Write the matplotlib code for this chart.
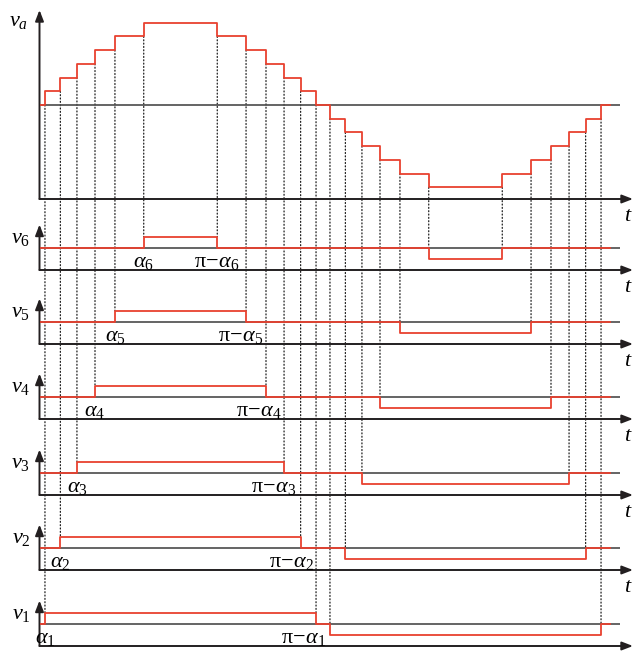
import numpy as np
import matplotlib.pyplot as plt
from matplotlib.patches import ConnectionPatch

plt.rcParams['mathtext.fontset'] = 'custom'
plt.rcParams['mathtext.rm'] = 'Liberation Serif'
plt.rcParams['mathtext.it'] = 'Liberation Serif:italic'

# switching angles (deg) of the six cells
alpha = [4.4, 14.1, 24.6, 36.0, 48.6, 66.8]
cells = [6, 5, 4, 3, 2, 1]          # sub panels, top to bottom
t_end = 361.0                       # red trace stops here
zero_end = 367.5                    # grey zero line stops here

RED = '#e8412f'
AX = '#231f20'
GREY = '#4a4a4a'

W, H = 640, 651
fig = plt.figure(figsize=(W / 100, H / 100), dpi=100)

px_deg = 285 / 180.0
x_left = (39.5 - 38) / px_deg
x_right = (633 - 38) / px_deg


def px_axes(top, bottom, t_label=True):
    ax = fig.add_axes([39.5 / W, 1 - bottom / H, (633 - 39.5) / W, (bottom - top) / H])
    ax.set_xlim(x_left, x_right)
    ax.axis('off')
    ax.set_facecolor('none')
    arrow = dict(arrowstyle='-|>,head_length=0.65,head_width=0.25', color=AX,
                 lw=1.4, shrinkA=0, shrinkB=0, mutation_scale=10)
    ax.annotate('', xy=(1, 0), xytext=(0, 0), xycoords='axes fraction', arrowprops=arrow)
    ax.annotate('', xy=(0, 1), xytext=(0, 0), xycoords='axes fraction', arrowprops=arrow)
    if t_label:
        ax.annotate('$t$', xy=(1, 0), xycoords='axes fraction', xytext=(-3.5, -4.5),
                    textcoords='offset points', ha='center', va='top', fontsize=16)
    ax.hlines(0, x_left, zero_end, color=GREY, lw=1.2, zorder=1)
    return ax


def cell_wave(a, theta):
    v = np.zeros_like(theta)
    v[(theta >= a) & (theta < 180 - a)] = 1
    v[(theta >= 180 + a) & (theta < 360 - a)] = -1
    return v


# top panel: staircase = sum of all cells
edges = [0.0, t_end]
for a in alpha:
    edges += [a, 180 - a, 180 + a, 360 - a]
theta = np.array(sorted(edges))
va = sum(cell_wave(a, theta) for a in alpha)

ax_top = px_axes(10, 199)
ax_top.set_ylim(-94 / 13.72, 95 / 13.72)
ax_top.step(theta, va, where='post', color=RED, lw=1.3, zorder=3)
ax_top.annotate('$v_a$', xy=(0, 1), xycoords='axes fraction', xytext=(-8, -0.5),
                textcoords='offset points', ha='right', va='top', fontsize=16)

zeros = [248, 322, 397, 473, 548, 624]
pi_shift = {1: -8.6, 2: -6.5, 3: -7.2, 4: -5.0, 5: -3.6, 6: 0.0}

for z, k in zip(zeros, cells):
    a = alpha[k - 1]
    # the last panel's t sits below the picture edge in the original
    ax = px_axes(z - 23.5, z + 22, t_label=(k != 1))
    ax.set_ylim(-22 / 11.3, 23.5 / 11.3)
    th = np.array([0.0, a, 180 - a, 180 + a, 360 - a, t_end])
    ax.step(th, cell_wave(a, th), where='post', color=RED, lw=1.3, zorder=3)
    ax.annotate('$v_{%d}$' % k, xy=(0, 1), xycoords='axes fraction', xytext=(-6.5, -2.5),
                textcoords='offset points', ha='right', va='top', fontsize=16)
    ax.annotate(r'$\alpha_{%d}$' % k, xy=(a, 0), xytext=(0, -3),
                textcoords='offset points', ha='center', va='top', fontsize=16)
    ax.annotate(r'$\mathrm{\pi}\!-\!\alpha_{%d}$' % k, xy=(180 - a, 0),
                xytext=(pi_shift[k], -3), textcoords='offset points',
                ha='center', va='top', fontsize=16)

    # dotted guides from the staircase down to this cell
    guides = [(a, k - 1, 1), (180 - a, k - 1, 1), (180 + a, -k, 0), (360 - a, -k, 0)]
    for x, y_top, y_sub in guides:
        con = ConnectionPatch(xyA=(x, y_top), coordsA=ax_top.transData,
                              xyB=(x, y_sub), coordsB=ax.transData,
                              color='black', lw=0.8, linestyle=(0, (1, 2)), zorder=-1)
        fig.add_artist(con)

fig.savefig('out.png', dpi=100)
